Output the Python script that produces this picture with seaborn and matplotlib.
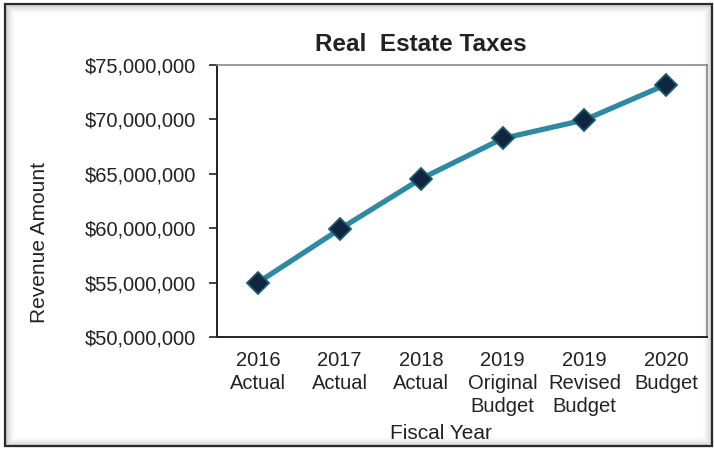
import matplotlib
matplotlib.use("Agg")
import matplotlib.pyplot as plt
from matplotlib.patches import Rectangle
from matplotlib.ticker import FuncFormatter
import seaborn as sns
import pandas as pd

# Fiscal year categories and real estate tax revenue
categories = ["2016\nActual", "2017\nActual", "2018\nActual",
              "2019\nOriginal\nBudget", "2019\nRevised\nBudget", "2020\nBudget"]
revenue = [55_000_000, 59_900_000, 64_550_000, 68_250_000, 69_950_000, 73_200_000]
y_ticks = [50_000_000, 55_000_000, 60_000_000, 65_000_000, 70_000_000, 75_000_000]

df = pd.DataFrame({"pos": range(len(categories)), "revenue": revenue})

sns.set_theme(style="white")
plt.rcParams["font.family"] = ["Liberation Sans", "DejaVu Sans"]

fig = plt.figure(figsize=(7.14, 4.49), dpi=100)
ax = fig.add_axes([0.304, 0.2494, 0.686, 0.6058])

sns.lineplot(data=df, x="pos", y="revenue", ax=ax, color="#2E8AA3",
             linewidth=3.8, marker="D", markersize=11.5,
             markerfacecolor="#10253F", markeredgecolor="#1E5A6C",
             markeredgewidth=1.3, sort=False, zorder=3)

ax.set_xlim(-0.5, len(categories) - 0.5)
ax.set_ylim(y_ticks[0], y_ticks[-1])
ax.set_yticks(y_ticks)
ax.yaxis.set_major_formatter(FuncFormatter(lambda v, _: f"${v:,.0f}"))

ax.set_xticks(range(len(categories)))
ax.set_xticklabels(categories, linespacing=1.27)
ax.set_xticks([i - 0.5 for i in range(len(categories) + 1)], minor=True)
ax.tick_params(axis="x", which="major", length=0, pad=10, labelsize=14.5, colors="#222222")
ax.tick_params(axis="x", which="minor", length=6, width=1.2, color="#222222", direction="out")
ax.tick_params(axis="y", which="major", length=6, width=1.2, color="#222222",
               direction="out", left=True, pad=9, labelsize=14.5, labelcolor="#222222")

for side in ("left", "bottom"):
    ax.spines[side].set_color("#222222")
    ax.spines[side].set_linewidth(1.4)
for side in ("top", "right"):
    ax.spines[side].set_color("#8A8A8A")
    ax.spines[side].set_linewidth(1.2)

ax.set_xlabel("")
ax.set_ylabel("")

fig.text(0.589, 0.902, "Real  Estate Taxes", ha="center", va="center",
         fontsize=17.5, fontweight="bold", color="#222222")
fig.text(0.056, 0.459, "Revenue Amount", ha="center", va="center",
         rotation=90, fontsize=15, color="#222222")
fig.text(0.618, 0.035, "Fiscal Year", ha="center", va="center",
         fontsize=15, color="#222222")

# Frame with a soft inner shadow around the whole chart
W, H = 714, 449
x0, y0, x1, y1 = 5, 4, 712, 446
for i in range(10):
    a = 0.25 * (1 - i / 10) ** 1.6
    fig.patches.append(Rectangle(((x0 + i) / W, (H - y1 + i) / H),
                                 (x1 - x0 - 2 * i) / W, (y1 - y0 - 2 * i) / H,
                                 transform=fig.transFigure, fill=False,
                                 edgecolor=(0.35, 0.35, 0.35, a), linewidth=1.0,
                                 zorder=0))
fig.patches.append(Rectangle((x0 / W, (H - y1) / H), (x1 - x0) / W, (y1 - y0) / H,
                             transform=fig.transFigure, fill=False,
                             edgecolor="#2A2A2A", linewidth=1.6, zorder=1))

fig.savefig("out.png", dpi=100)
